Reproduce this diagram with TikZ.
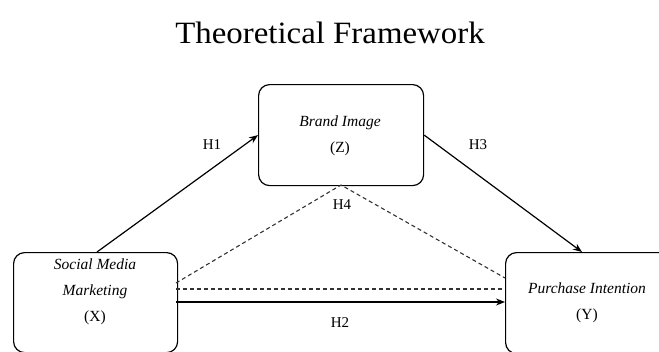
\documentclass[tikz,border=0pt]{standalone}
\usepackage{fontspec}
\setmainfont{Liberation Serif}
\newfontfamily\titlefont[FakeStretch=1.06]{Liberation Serif}
\usetikzlibrary{arrows.meta}
\begin{document}
\begin{tikzpicture}[x=1pt,y=-1pt,
  box/.style={draw, line width=1.2pt, rounded corners=11pt, anchor=north west, inner sep=0pt, align=center},
  conn/.style={line width=1.2pt, -{Stealth[length=9pt,width=7pt]}},
  dconn/.style={line width=1.1pt, dash pattern=on 4pt off 3pt, draw=black!80},
  lab/.style={font=\fontsize{15}{17}\selectfont},
  btxt/.style={font=\fontsize{15.5}{26}\selectfont}]
\useasboundingbox (0,0) rectangle (659,351);
\node[font=\titlefont\fontsize{31}{34}\selectfont] (title) at (330,33) {Theoretical Framework};
\node[box, minimum width=164pt, minimum height=100pt] (smm) at (13,252) {};
\node[box, minimum width=165pt, minimum height=101pt] (bi) at (258,84) {};
\node[box, minimum width=168pt, minimum height=101pt] (pi) at (505,252) {};
\node[btxt, align=center] (smmt) at (95,292) {\itshape Social Media\\[-0.5pt]\itshape Marketing\\[0pt](X)};
\node[btxt, align=center] (bit) at (340,136) {\itshape Brand Image\\[0pt](Z)};
\node[btxt, align=center] (pit) at (587,303) {\itshape Purchase Intention\\[0pt](Y)};
\coordinate (smmtop) at (97,252);
\coordinate (pitop) at (582,252);
\coordinate (bibot) at (341,185);
\coordinate (smmA) at (176,283);
\coordinate (smmB) at (176,289);
\coordinate (smmC) at (176,302);
\coordinate (piA) at (505,278);
\coordinate (piB) at (505,289);
\coordinate (piC) at (505,302);
\draw[conn] (smmtop) -- (bi.west);
\draw[conn] (bi.east) -- (pitop);
\draw[dconn] (smmA) -- (bibot) -- (piA);
\draw[dconn] (smmB) -- (piB);
\draw[conn] (smmC) -- (piC);
\node[lab] (h1) at (212,145) {H1};
\node[lab] (h3) at (478,145) {H3};
\node[lab] (h4) at (342,205) {H4};
\node[lab] (h2) at (340,323) {H2};
\end{tikzpicture}
\end{document}
